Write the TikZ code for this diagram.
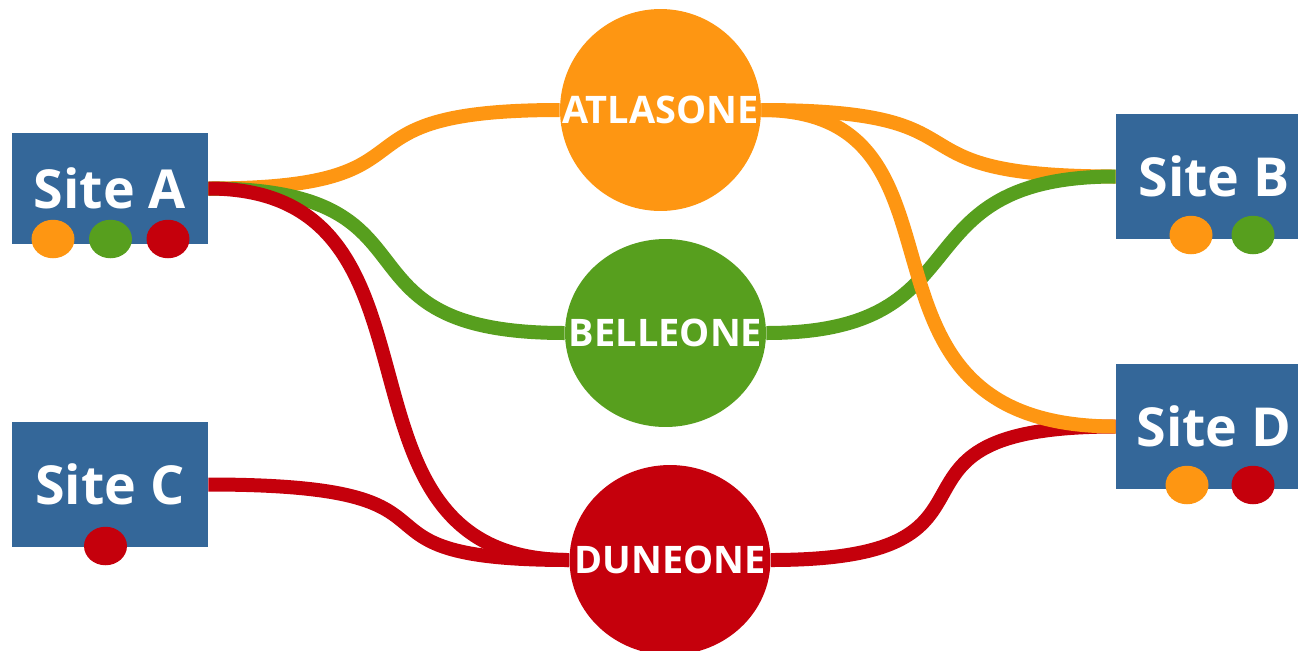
\documentclass[tikz,border=0pt]{standalone}
\usepackage{fontspec}
\setmainfont{Open Sans}
\usetikzlibrary{shapes.geometric,backgrounds}

\definecolor{siteblue}{HTML}{346799}
\definecolor{atlasorange}{HTML}{FE9612}
\definecolor{bellegreen}{HTML}{579F1E}
\definecolor{dunered}{HTML}{C5000C}

\begin{document}
\begin{tikzpicture}[x=0.02cm,y=-0.02cm,
    site/.style={fill=siteblue,draw=none,minimum width=3.92cm,minimum height=2.5cm,inner sep=0pt,text=white,font=\fontsize{30.6}{36}\selectfont\bfseries},
    hub/.style={ellipse,draw=none,minimum width=4.02cm,inner xsep=-1.9cm,inner ysep=0pt,text=white,font=\fontsize{21.6}{26}\selectfont\bfseries},
    sitedot/.style={ellipse,draw=none,minimum width=0.86cm,minimum height=0.77cm,inner sep=0pt},
    link/.style={line width=0.28cm}]
    \useasboundingbox (0,0) rectangle (1298,650);

    \node[site,minimum height=2.23cm] (siteA) at (110,188.5) {Site A};
    \node[site] (siteC) at (110,484.5) {Site C};
    \node[site] (siteB) at (1214,176.5) {Site B};
    \node[site] (siteD) at (1214,426.5) {Site D};

    \node[sitedot,fill=atlasorange] (dotA1) at (53,239) {};
    \node[sitedot,fill=bellegreen] (dotA2) at (110.5,239) {};
    \node[sitedot,fill=dunered] (dotA3) at (168,239) {};
    \node[sitedot,fill=dunered] (dotC1) at (105.5,546) {};
    \node[sitedot,fill=atlasorange] (dotB1) at (1191,235) {};
    \node[sitedot,fill=bellegreen] (dotB2) at (1253,235) {};
    \node[sitedot,fill=atlasorange] (dotD1) at (1187,485) {};
    \node[sitedot,fill=dunered] (dotD2) at (1253,485) {};

    \node[hub,fill=atlasorange,minimum height=4.04cm] (atlas) at (660.5,110) {ATLASONE};
    \node[hub,fill=bellegreen,minimum height=3.76cm] (belle) at (665.5,333) {BELLEONE};
    \node[hub,fill=dunered,minimum height=3.8cm] (dune) at (670,560) {DUNEONE};

    \begin{scope}[on background layer]
        \draw[link,atlasorange] (siteA.east) .. controls +(246,0) and +(-246,0) .. (atlas.west);
        \draw[link,bellegreen] (siteA.east) .. controls +(245,0) and +(-245,0) .. (belle.west);
        \draw[link,dunered] (siteA.east) .. controls +(260,0) and +(-260,0) .. (dune.west);
        \draw[link,dunered] (siteC.east) .. controls +(290,0) and +(-250,0) .. (dune.west);

        \draw[link,dunered] (dune.east) .. controls +(270,0) and +(-270,0) .. (siteD.west);
        \draw[link,atlasorange] (atlas.east) .. controls +(244,0) and +(-244,0) .. (siteB.west);
        \draw[link,bellegreen] (belle.east) .. controls +(223,0) and +(-223,0) .. (siteB.west);
        \draw[link,atlasorange] (atlas.east) .. controls +(231,0) and +(-292,0) .. (siteD.west);
    \end{scope}

\end{tikzpicture}
\end{document}
